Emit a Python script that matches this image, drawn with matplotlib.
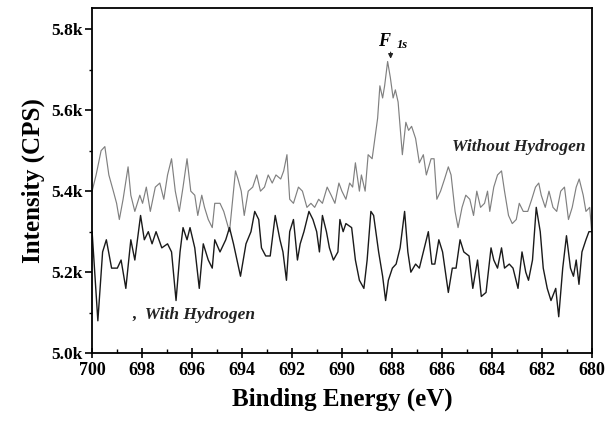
import matplotlib
matplotlib.use("Agg")
from matplotlib import pyplot as plt
from matplotlib.ticker import MultipleLocator, FuncFormatter

plt.rcParams['font.family'] = ['Liberation Serif', 'DejaVu Serif']

# With Hydrogen (dark trace): binding energy (eV), intensity (k CPS)
e_with = [700.00, 699.77, 699.58, 699.43, 699.22, 698.99, 698.84, 698.65, 698.45, 698.29,
          698.06, 697.91, 697.75, 697.60, 697.44, 697.21, 696.98, 696.82, 696.64, 696.48,
          696.36, 696.20, 696.08, 695.89, 695.71, 695.55, 695.35, 695.19, 695.09, 694.88,
          694.65, 694.50, 694.34, 694.06, 693.84, 693.64, 693.49, 693.33, 693.22, 693.05,
          692.87, 692.67, 692.48, 692.36, 692.22, 692.09, 691.94, 691.78, 691.67, 691.52,
          691.32, 691.16, 691.01, 690.90, 690.78, 690.62, 690.50, 690.34, 690.16, 690.08,
          689.95, 689.84, 689.61, 689.46, 689.30, 689.12, 688.99, 688.84, 688.73, 688.53,
          688.37, 688.25, 688.14, 687.98, 687.83, 687.67, 687.49, 687.36, 687.24, 687.05,
          686.90, 686.74, 686.54, 686.40, 686.28, 686.12, 685.97, 685.74, 685.58, 685.43,
          685.27, 685.12, 684.91, 684.76, 684.57, 684.42, 684.23, 684.03, 683.92, 683.77,
          683.61, 683.49, 683.30, 683.15, 682.95, 682.79, 682.64, 682.53, 682.37, 682.22,
          682.06, 681.94, 681.78, 681.63, 681.44, 681.32, 681.16, 681.01, 680.85, 680.73,
          680.62, 680.51, 680.39, 680.23, 680.11, 680.00]
i_with = [5.30, 5.08, 5.25, 5.28, 5.21, 5.21, 5.23, 5.16, 5.28, 5.23,
          5.34, 5.28, 5.30, 5.27, 5.30, 5.26, 5.27, 5.25, 5.13, 5.25,
          5.31, 5.28, 5.31, 5.26, 5.16, 5.27, 5.23, 5.21, 5.28, 5.25,
          5.28, 5.31, 5.27, 5.19, 5.27, 5.30, 5.35, 5.33, 5.26, 5.24,
          5.24, 5.34, 5.28, 5.25, 5.18, 5.30, 5.33, 5.23, 5.27, 5.30,
          5.35, 5.33, 5.30, 5.25, 5.34, 5.30, 5.26, 5.23, 5.25, 5.33,
          5.30, 5.32, 5.31, 5.23, 5.18, 5.16, 5.23, 5.35, 5.34, 5.25,
          5.19, 5.13, 5.18, 5.21, 5.22, 5.26, 5.35, 5.25, 5.20, 5.22,
          5.21, 5.25, 5.30, 5.22, 5.22, 5.28, 5.25, 5.15, 5.21, 5.21,
          5.28, 5.25, 5.24, 5.16, 5.23, 5.14, 5.15, 5.26, 5.23, 5.21,
          5.26, 5.21, 5.22, 5.21, 5.16, 5.25, 5.20, 5.18, 5.23, 5.36,
          5.30, 5.21, 5.16, 5.13, 5.16, 5.09, 5.21, 5.29, 5.21, 5.19,
          5.23, 5.17, 5.25, 5.28, 5.30, 5.30]

# Without Hydrogen (grey trace)
e_without = [700.00, 699.84, 699.64, 699.49, 699.33, 699.15, 699.02, 698.91, 698.76, 698.56,
             698.45, 698.29, 698.09, 697.98, 697.83, 697.67, 697.47, 697.29, 697.13, 696.98,
             696.82, 696.67, 696.51, 696.36, 696.20, 696.05, 695.89, 695.77, 695.61, 695.50,
             695.35, 695.19, 695.09, 694.88, 694.73, 694.50, 694.26, 694.16, 694.03, 693.91,
             693.75, 693.57, 693.41, 693.26, 693.10, 692.95, 692.79, 692.64, 692.45, 692.33,
             692.20, 692.09, 691.94, 691.74, 691.58, 691.40, 691.24, 691.09, 690.93, 690.78,
             690.59, 690.43, 690.28, 690.12, 690.00, 689.84, 689.69, 689.57, 689.46, 689.30,
             689.22, 689.07, 688.95, 688.79, 688.68, 688.57, 688.48, 688.37, 688.29, 688.17,
             688.06, 687.95, 687.86, 687.75, 687.67, 687.58, 687.44, 687.33, 687.21, 687.05,
             686.90, 686.74, 686.62, 686.43, 686.31, 686.20, 686.05, 685.89, 685.74, 685.63,
             685.47, 685.35, 685.19, 685.04, 684.88, 684.73, 684.60, 684.45, 684.29, 684.17,
             684.08, 683.92, 683.77, 683.61, 683.49, 683.33, 683.18, 683.02, 682.90, 682.74,
             682.56, 682.40, 682.25, 682.12, 682.02, 681.86, 681.71, 681.55, 681.40, 681.24,
             681.09, 680.93, 680.78, 680.62, 680.50, 680.34, 680.23, 680.08, 680.00]
i_without = [5.40, 5.44, 5.50, 5.51, 5.44, 5.40, 5.37, 5.33, 5.38, 5.46,
             5.39, 5.35, 5.39, 5.37, 5.41, 5.35, 5.41, 5.42, 5.38, 5.44,
             5.48, 5.40, 5.35, 5.41, 5.48, 5.40, 5.39, 5.34, 5.39, 5.36,
             5.33, 5.31, 5.37, 5.37, 5.35, 5.30, 5.45, 5.43, 5.40, 5.34,
             5.40, 5.41, 5.44, 5.40, 5.41, 5.44, 5.42, 5.44, 5.43, 5.45,
             5.49, 5.38, 5.37, 5.41, 5.40, 5.36, 5.37, 5.36, 5.38, 5.37,
             5.41, 5.39, 5.37, 5.42, 5.40, 5.38, 5.42, 5.41, 5.47, 5.40,
             5.44, 5.40, 5.49, 5.48, 5.53, 5.58, 5.66, 5.63, 5.66, 5.72,
             5.68, 5.63, 5.65, 5.62, 5.56, 5.49, 5.57, 5.55, 5.56, 5.53,
             5.47, 5.49, 5.44, 5.48, 5.48, 5.38, 5.40, 5.43, 5.46, 5.44,
             5.35, 5.31, 5.36, 5.39, 5.38, 5.34, 5.40, 5.36, 5.37, 5.40,
             5.35, 5.41, 5.44, 5.45, 5.40, 5.34, 5.32, 5.33, 5.37, 5.35,
             5.35, 5.38, 5.41, 5.42, 5.39, 5.36, 5.40, 5.36, 5.35, 5.40,
             5.41, 5.33, 5.36, 5.41, 5.43, 5.39, 5.35, 5.36, 5.30]

fig = plt.figure(figsize=(6.10, 4.23), dpi=100)
ax = fig.add_axes([0.151, 0.165, 0.819, 0.816])

ax.plot(e_without, i_without, color='#808080', lw=0.85)
ax.plot(e_with, i_with, color='#1a1a1a', lw=1.0)

ax.set_xlim(700, 680)
ax.set_ylim(5.0, 5.852)

ax.xaxis.set_major_locator(MultipleLocator(2))
ax.xaxis.set_minor_locator(MultipleLocator(1))
ax.yaxis.set_major_locator(MultipleLocator(0.2))
ax.yaxis.set_minor_locator(MultipleLocator(0.1))
ax.yaxis.set_major_formatter(FuncFormatter(lambda v, p: f'{v:.1f}k'))

ax.tick_params(axis='x', which='major', direction='inout', length=7, width=1.2, labelsize=13, pad=3)
ax.tick_params(axis='x', which='minor', direction='in', length=3, width=1)
ax.tick_params(axis='y', which='major', direction='out', length=5, width=1.2, labelsize=12.5, pad=2)
ax.tick_params(axis='y', which='minor', direction='out', length=2, width=1)
for lab in ax.get_xticklabels() + ax.get_yticklabels():
    lab.set_fontweight('bold')

for sp in ax.spines.values():
    sp.set_linewidth(1.3)

ax.set_xlabel('Binding Energy (eV)', fontsize=18, fontweight='bold', labelpad=6)
ax.set_ylabel('Intensity (CPS)', fontsize=18, fontweight='bold', labelpad=4)

ax.text(688.3, 5.77, 'F', fontsize=13, fontweight='bold', style='italic', ha='center', va='center')
ax.text(687.6, 5.76, '1s', fontsize=9, fontweight='bold', style='italic', ha='center', va='center')
ax.annotate('', xy=(688.05, 5.72), xytext=(688.05, 5.75),
            arrowprops=dict(arrowstyle='-|>', color='#222222', lw=0.8, mutation_scale=7))

ax.text(685.6, 5.51, 'Without Hydrogen', fontsize=12.5, fontweight='bold', style='italic',
        ha='left', va='center', color='#222222')
ax.text(698.4, 5.095, ',  With Hydrogen', fontsize=12.5, fontweight='bold', style='italic',
        ha='left', va='center', color='#222222')

fig.savefig('out.png', dpi=100)
